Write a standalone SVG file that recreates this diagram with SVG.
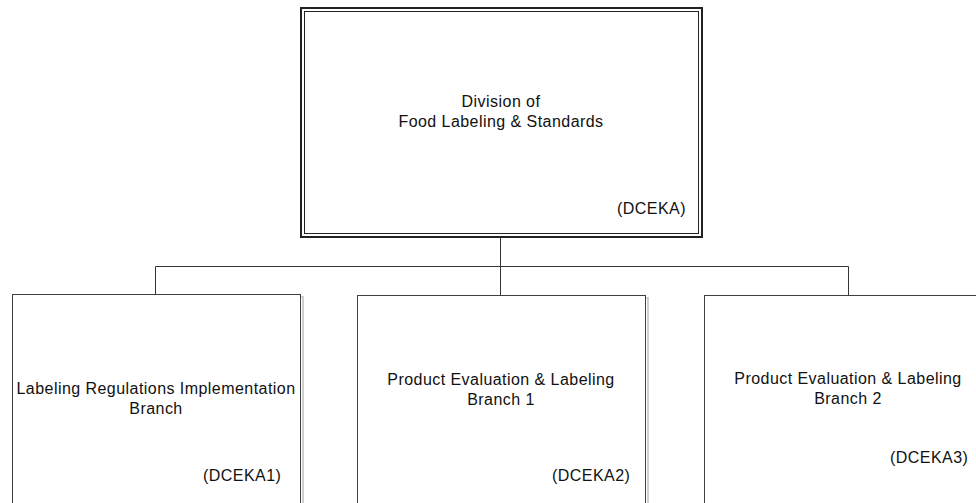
<svg xmlns="http://www.w3.org/2000/svg" width="976" height="503" viewBox="0 0 976 503">
<style>
text{font-family:"Liberation Sans",Arial,sans-serif;font-size:16px;letter-spacing:0.45px;fill:#111}
.c{text-anchor:middle}
.box{fill:#fff;stroke:#404040;stroke-width:1}
.sh{fill:none;stroke:#d0d0d0;stroke-width:2}
.conn{fill:none;stroke:#333;stroke-width:1}
</style>
<rect width="976" height="503" fill="#fff"/>
<g id="connectors">
<path class="conn" d="M500.5 238V266.5M155.5 266.5H848.5M155.5 266.5V294.5M500.5 266.5V295.5M848.5 266.5V295.5"/>
</g>
<g id="n0">
<rect x="301" y="8" width="401" height="229" fill="#fff" stroke="#222" stroke-width="2"/>
<rect x="304.5" y="11.5" width="394" height="222" fill="none" stroke="#222" stroke-width="1"/>
<text class="c" x="501" y="107">Division of</text>
<text class="c" x="501" y="127">Food Labeling &amp; Standards</text>
<text x="617" y="214">(DCEKA)</text>
</g>
<g id="n1">
<rect class="sh" x="15" y="297" width="288" height="220"/>
<rect class="box" x="12.5" y="294.5" width="288" height="220"/>
<text class="c" x="156" y="394">Labeling Regulations Implementation</text>
<text class="c" x="156" y="414">Branch</text>
<text x="203" y="481">(DCEKA1)</text>
</g>
<g id="n2">
<rect class="sh" x="360" y="298" width="288" height="220"/>
<rect class="box" x="357.5" y="295.5" width="288" height="220"/>
<text class="c" x="501" y="385">Product Evaluation &amp; Labeling</text>
<text class="c" x="501" y="405">Branch 1</text>
<text x="552" y="481">(DCEKA2)</text>
</g>
<g id="n3">
<rect class="sh" x="707" y="298" width="300" height="220"/>
<rect class="box" x="704.5" y="295.5" width="300" height="220"/>
<text class="c" x="848" y="384">Product Evaluation &amp; Labeling</text>
<text class="c" x="848" y="404">Branch 2</text>
<text x="890" y="463">(DCEKA3)</text>
</g>
</svg>
